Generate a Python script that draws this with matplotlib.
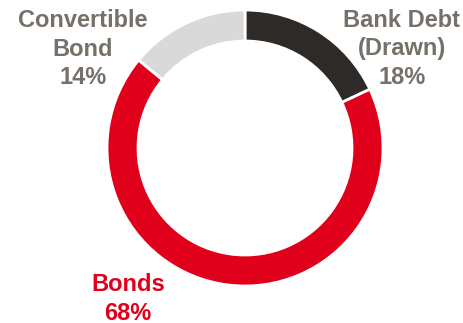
import matplotlib
matplotlib.use("Agg")
import matplotlib.pyplot as plt

labels = ['Bank Debt\n(Drawn)', 'Bonds', 'Convertible\nBond']
shares = [18, 68, 14]
colors = ['#2d2a27', '#e0001b', '#d9d9d9']
label_colors = ['#767069', '#e0001b', '#767069']

H = 323
fig = plt.figure(figsize=(4.64, 3.23), dpi=100)
ax = fig.add_axes([0, 0, 1, 1])

# donut, clockwise from 12 o'clock
ax.pie(shares, colors=colors, startangle=90, counterclock=False,
       center=(245, H - 148), radius=138, frame=True,
       wedgeprops=dict(width=31, edgecolor='white', linewidth=2))
ax.set_xlim(0, 464)
ax.set_ylim(0, H)
ax.set_aspect('equal')
ax.axis('off')

# label positions (pixels from top-left)
label_pos = [(402, 49), (128, 299), (83, 49)]
for lab, v, c, (x, y) in zip(labels, shares, label_colors, label_pos):
    ax.text(x, H - y, '%s\n%d%%' % (lab, v), ha='center', va='center',
            color=c, fontsize=17, fontweight='bold', family='Liberation Sans',
            linespacing=1.32)

fig.savefig('out.png', dpi=100)
